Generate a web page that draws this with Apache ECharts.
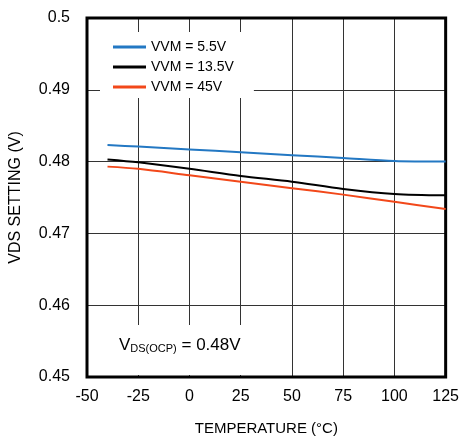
<!DOCTYPE html>
<html>
<head>
<meta charset="utf-8">
<script src="https://cdn.jsdelivr.net/npm/echarts@6/dist/echarts.min.js"></script>
<style>
  html, body { margin: 0; padding: 0; background: #fff; }
  #chart { width: 462px; height: 441px; }
</style>
</head>
<body>
<div id="chart"></div>
<script>
// temperature points (°C)
var temps = [-40, -25, 0, 25, 50, 75, 100, 125]
// VDS setting (V)
var vvm55 = [0.4823, 0.4821, 0.4817, 0.4813, 0.4809, 0.4805, 0.4801, 0.4800]
var vvm135 = [0.4803, 0.4799, 0.4790, 0.4780, 0.4772, 0.4762, 0.4755, 0.4753]
var vvm45 = [0.4793, 0.4790, 0.4781, 0.4772, 0.4763, 0.4754, 0.4744, 0.4734]
var seriesNames = ['VVM = 5.5V', 'VVM = 13.5V', 'VVM = 45V']
var colors = ['#2378c3', '#000000', '#f2481a']

var font = 'Liberation Sans'

function pairs(ys) {
  return temps.map(function (t, i) { return [t, ys[i]] })
}

function lineSeries(name, ys, color) {
  return {
    name: name,
    type: 'line',
    data: pairs(ys),
    smooth: 0.3,
    showSymbol: false,
    symbol: 'none',
    lineStyle: { color: color, width: 2 },
    itemStyle: { color: color }
  }
}

var chart = echarts.init(document.getElementById('chart'))
chart.setOption({
  backgroundColor: '#fff',
  animation: false,
  textStyle: { fontFamily: font },
  grid: {
    left: 83,
    right: 12,
    top: 18,
    bottom: 61,
    show: true,
    borderColor: '#000',
    borderWidth: 3,
    z: 3
  },
  legend: {
    left: 100,
    top: 32,
    orient: 'vertical',
    backgroundColor: '#fff',
    padding: [8, 20, 4, 13],
    icon: 'rect',
    itemWidth: 33,
    itemHeight: 3,
    itemGap: 6,
    textStyle: { fontSize: 14, lineHeight: 14, color: '#000', fontFamily: font },
    data: seriesNames
  },
  xAxis: {
    type: 'value',
    min: -50,
    max: 125,
    interval: 25,
    name: 'TEMPERATURE (°C)',
    nameLocation: 'middle',
    nameGap: 44,
    nameTextStyle: { fontSize: 15, color: '#000', fontFamily: font },
    axisLine: { show: false },
    axisTick: { show: false },
    axisLabel: { fontSize: 16, color: '#000', margin: 12, fontFamily: font },
    splitLine: { show: true, lineStyle: { color: '#333', width: 1 } }
  },
  yAxis: {
    type: 'value',
    min: 0.45,
    max: 0.5,
    interval: 0.01,
    name: 'VDS SETTING (V)',
    nameLocation: 'middle',
    nameGap: 63,
    nameTextStyle: { fontSize: 16, color: '#000', fontFamily: font },
    axisLine: { show: false },
    axisTick: { show: false },
    axisLabel: {
      fontSize: 16,
      color: '#000',
      margin: 17,
      fontFamily: font,
      formatter: function (v) { return String(parseFloat(v.toFixed(2))) }
    },
    splitLine: { show: true, lineStyle: { color: '#333', width: 1 } }
  },
  graphic: [
    {
      type: 'rect',
      left: 86,
      top: 325,
      shape: { width: 166, height: 50 },
      style: { fill: '#fff' },
      z: 2
    },
    {
      type: 'text',
      left: 119,
      top: 337,
      z: 3,
      style: {
        text: '{a|V}{b|DS(OCP)}{a| = 0.48V}',
        fill: '#000',
        rich: {
          a: { fontSize: 17, lineHeight: 24, verticalAlign: 'bottom', fontFamily: font, fill: '#000' },
          b: { fontSize: 11, lineHeight: 12, verticalAlign: 'bottom', fontFamily: font, fill: '#000' }
        }
      }
    }
  ],
  series: [
    lineSeries(seriesNames[0], vvm55, colors[0]),
    lineSeries(seriesNames[1], vvm135, colors[1]),
    lineSeries(seriesNames[2], vvm45, colors[2])
  ]
})
</script>
</body>
</html>
